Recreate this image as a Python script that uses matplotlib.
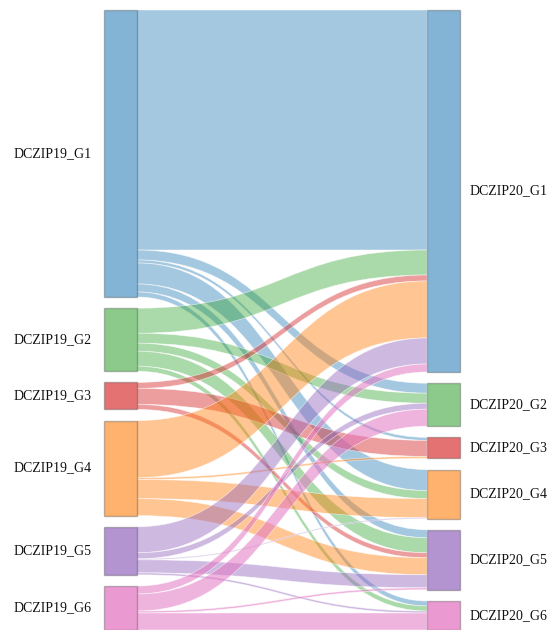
import numpy as np
import matplotlib.pyplot as plt
from matplotlib.path import Path
from matplotlib.patches import PathPatch, Rectangle
from matplotlib.colors import to_rgba

# node names and colours
left_names = ["DCZIP19_G1", "DCZIP19_G2", "DCZIP19_G3", "DCZIP19_G4", "DCZIP19_G5", "DCZIP19_G6"]
right_names = ["DCZIP20_G1", "DCZIP20_G2", "DCZIP20_G3", "DCZIP20_G4", "DCZIP20_G5", "DCZIP20_G6"]
colors = ["#1f77b4", "#2ca02c", "#d62728", "#ff7f0e", "#9467bd", "#e377c2"]
node_alpha = [0.55, 0.55, 0.65, 0.6, 0.7, 0.75]
link_alpha = [0.4, 0.4, 0.45, 0.45, 0.45, 0.55]

# flows: row = 2019 group, column = 2020 group
flows = np.array([
    [240, 10, 3, 21, 8, 5],
    [25, 10, 0, 8, 15, 5],
    [6, 0, 16, 0, 5, 0],
    [57, 0, 2, 19, 17, 0],
    [26, 6, 0, 1, 13, 2],
    [8, 17, 0, 0, 2, 17],
])

W, H = 552, 630
fig = plt.figure(figsize=(W / 100, H / 100), dpi=100)
ax = fig.add_axes([0, 0, 1, 1])
ax.set_xlim(0, W)
ax.set_ylim(H, 0)
ax.axis("off")

top, bottom = 10, 630
node_w = 33
x_left, x_right = 104, 427

left_tot = flows.sum(axis=1)
right_tot = flows.sum(axis=0)


def layout(totals):
    gap = ((bottom - top) - totals.sum()) / (len(totals) - 1)
    ys = []
    y = top
    for t in totals:
        ys.append(y)
        y += t + gap
    return np.array(ys)


ly = layout(left_tot)
ry = layout(right_tot)

# where each link leaves its source and enters its target
src_starts = np.zeros_like(flows, dtype=float)
tgt_starts = np.zeros_like(flows, dtype=float)
for i in range(6):
    off = ly[i]
    for j in range(6):
        src_starts[i, j] = off
        off += flows[i, j]
for j in range(6):
    off = ry[j]
    for i in range(6):
        tgt_starts[i, j] = off
        off += flows[i, j]

x0 = x_left + node_w
x1 = x_right
xm = (x0 + x1) / 2
for i in range(6):
    for j in range(6):
        v = flows[i, j]
        if v <= 0:
            continue
        s0, t0 = src_starts[i, j], tgt_starts[i, j]
        s1, t1 = s0 + v, t0 + v
        verts = [(x0, s0), (xm, s0), (xm, t0), (x1, t0),
                 (x1, t1), (xm, t1), (xm, s1), (x0, s1), (x0, s0)]
        codes = [Path.MOVETO, Path.CURVE4, Path.CURVE4, Path.CURVE4,
                 Path.LINETO, Path.CURVE4, Path.CURVE4, Path.CURVE4, Path.CLOSEPOLY]
        ax.add_patch(PathPatch(Path(verts, codes), facecolor=to_rgba(colors[i], link_alpha[i]),
                               edgecolor=(1, 1, 1, 0.6), lw=0.5))

# nodes
edge = (0.27, 0.27, 0.27, 0.35)
for i in range(6):
    ax.add_patch(Rectangle((x_left, ly[i]), node_w, left_tot[i],
                           facecolor=to_rgba(colors[i], node_alpha[i]), edgecolor=edge, lw=1))
    ax.text(x_left - 12, ly[i] + left_tot[i] / 2, left_names[i], ha="right", va="center",
            fontsize=10, family="Liberation Serif", color="#111111")
    ax.add_patch(Rectangle((x_right, ry[i]), node_w, right_tot[i],
                           facecolor=to_rgba(colors[i], node_alpha[i]), edgecolor=edge, lw=1))
    ax.text(x_right + node_w + 10, ry[i] + right_tot[i] / 2, right_names[i], ha="left",
            va="center", fontsize=10, family="Liberation Serif", color="#111111")

fig.savefig("out.png", dpi=100)
